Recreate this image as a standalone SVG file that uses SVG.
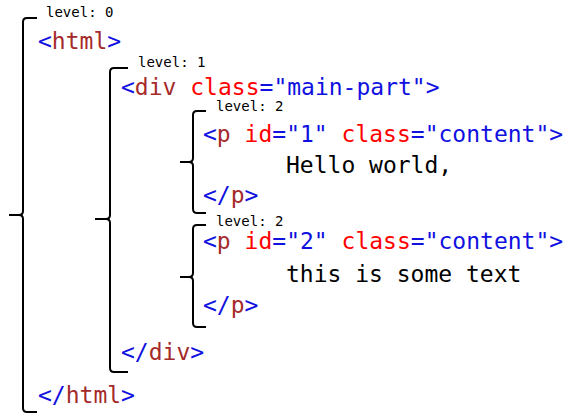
<svg xmlns="http://www.w3.org/2000/svg" width="565" height="414" viewBox="0 0 565 414">
  <style>
    .code { font-family: "DejaVu Sans Mono", "Liberation Mono", monospace; font-size: 23px; fill: #000; }
    .lvl { font-family: "DejaVu Sans Mono", "Liberation Mono", monospace; font-size: 14px; fill: #000; }
    .p { fill: #1010e0; }
    .t { fill: #a52a2a; }
    .a { fill: #ff0000; }
    .v { fill: #1010e0; }
    .brace { fill: none; stroke: #000; stroke-width: 2; stroke-linejoin: round; stroke-linecap: butt; }
  </style>
  <rect width="565" height="414" fill="#fff"/>

  <!-- nesting braces -->
  <g id="connectors">
    <!-- level 0: html -->
    <path class="brace" d="M37,18 L27,18 Q23,18 23,22 L23,211 Q23,215 19,215 L9,215 M19,215 Q23,215 23,219 L23,408 Q23,412 27,412 L37,412"/>
    <!-- level 1: div -->
    <path class="brace" d="M128,68 L114,68 Q110,68 110,72 L110,215 Q110,219 106,219 L95,219 M106,219 Q110,219 110,223 L110,368 Q110,372 114,372 L128,372"/>
    <!-- level 2: first p -->
    <path class="brace" d="M206,111 L197,111 Q193,111 193,115 L193,158 Q193,162 189,162 L180,162 M189,162 Q193,162 193,166 L193,209 Q193,213 197,213 L206,213"/>
    <!-- level 2: second p -->
    <path class="brace" d="M206,225 L197,225 Q193,225 193,229 L193,273 Q193,277 189,277 L180,277 M189,277 Q193,277 193,281 L193,323 Q193,327 197,327 L206,327"/>
  </g>

  <g id="html">
    <text class="lvl" x="46" y="17">level: 0</text>
    <text class="code" x="38" y="49"><tspan class="p">&lt;</tspan><tspan class="t">html</tspan><tspan class="p">&gt;</tspan></text>
    <text class="code" x="38" y="403"><tspan class="p">&lt;/</tspan><tspan class="t">html</tspan><tspan class="p">&gt;</tspan></text>
  </g>

  <g id="div">
    <text class="lvl" x="138" y="67">level: 1</text>
    <text class="code" x="121" y="95"><tspan class="p">&lt;</tspan><tspan class="t">div</tspan> <tspan class="a">class</tspan><tspan class="p">=</tspan><tspan class="v">"main-part"</tspan><tspan class="p">&gt;</tspan></text>
    <text class="code" x="121" y="360"><tspan class="p">&lt;/</tspan><tspan class="t">div</tspan><tspan class="p">&gt;</tspan></text>
  </g>

  <g id="p1">
    <text class="lvl" x="216" y="111">level: 2</text>
    <text class="code" x="203" y="142"><tspan class="p">&lt;</tspan><tspan class="t">p</tspan> <tspan class="a">id</tspan><tspan class="p">=</tspan><tspan class="v">"1"</tspan> <tspan class="a">class</tspan><tspan class="p">=</tspan><tspan class="v">"content"</tspan><tspan class="p">&gt;</tspan></text>
    <text class="code" x="286" y="173">Hello world,</text>
    <text class="code" x="203" y="203"><tspan class="p">&lt;/</tspan><tspan class="t">p</tspan><tspan class="p">&gt;</tspan></text>
  </g>

  <g id="p2">
    <text class="lvl" x="216" y="226">level: 2</text>
    <text class="code" x="203" y="249"><tspan class="p">&lt;</tspan><tspan class="t">p</tspan> <tspan class="a">id</tspan><tspan class="p">=</tspan><tspan class="v">"2"</tspan> <tspan class="a">class</tspan><tspan class="p">=</tspan><tspan class="v">"content"</tspan><tspan class="p">&gt;</tspan></text>
    <text class="code" x="286" y="282">this is some text</text>
    <text class="code" x="203" y="313"><tspan class="p">&lt;/</tspan><tspan class="t">p</tspan><tspan class="p">&gt;</tspan></text>
  </g>
</svg>
